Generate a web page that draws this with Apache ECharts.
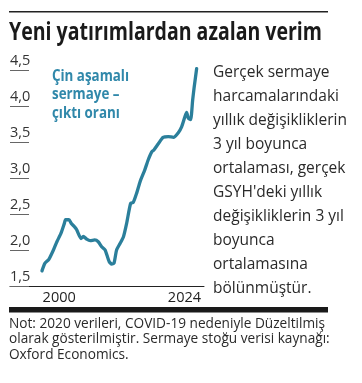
<!DOCTYPE html>
<html><head><meta charset="utf-8">
<script src="https://cdn.jsdelivr.net/npm/echarts@6/dist/echarts.min.js"></script>
<style>html,body{margin:0;padding:0;background:#fff}#c{width:362px;height:383px}</style>
</head><body><div id="c"></div>
<script>
// ---- data ----
const years = [1997.0,1997.5,1998.2,1999.0,1999.6,2000.3,2000.9,2001.1,2001.7,2002.1,2002.75,2003.05,2003.8,2004.2,2004.8,2005.4,2006.2,2006.8,2007.4,2008.0,2008.7,2009.15,2009.55,2010.0,2010.6,2011.2,2011.75,2012.45,2012.9,2013.5,2014.1,2014.9,2015.5,2016.1,2016.5,2017.3,2018.1,2019.0,2019.9,2020.75,2021.35,2021.9,2022.2,2022.5,2022.9,2023.25,2023.5,2023.95];
const ratio = [1.71,1.815,1.87,2.0,2.115,2.23,2.37,2.42,2.42,2.37,2.315,2.28,2.16,2.19,2.15,2.13,2.14,2.115,2.045,2.0,1.84,1.805,1.815,2.0,2.09,2.185,2.37,2.65,2.66,2.79,2.95,3.11,3.25,3.36,3.39,3.48,3.565,3.575,3.565,3.63,3.715,3.85,3.91,3.83,3.81,4.08,4.25,4.52];
const xTickValues = [2000, 2024];
const xTickLabels = ['2000', '2024'];
const yTickLabels = ['1,5','2,0','2,5','3,0','3,5','4,0','4,5'];
const titleText = 'Yeni yatırımlardan azalan verim';
const seriesLabel = ['Çin aşamalı', 'sermaye –', 'çıktı oranı'];
const noteLines = ['Gerçek sermaye','harcamalarındaki','yıllık değişikliklerin','3 yıl boyunca','ortalaması, gerçek',"GSYH'deki yıllık",'değişikliklerin 3 yıl','boyunca','ortalamasına','bölünmüştür.'];
const footLines = ['Not: 2020 verileri, COVID-19 nedeniyle Düzeltilmiş','olarak gösterilmiştir. Sermaye stoğu verisi kaynağı:','Oxford Economics.'];

const FF = '"Open Sans", "Noto Sans", sans-serif';
const TEAL = '#2b7f9b';
const TEAL_TXT = '#3088aa';
const ctx = document.createElement('canvas').getContext('2d');
function fit(text, weight, size, target){ ctx.font = weight + ' ' + size + 'px ' + FF; return target / ctx.measureText(text).width; }

const points = years.map((y,i)=>[y, ratio[i]]);
const chart = echarts.init(document.getElementById('c'), null, {renderer:'canvas'});
chart.setOption({
  animation:false,
  backgroundColor:'#fff',
  grid:{left:10, right:158, top:70, bottom:97, containLabel:false},
  xAxis:{type:'value', min:1991.43, max:2025.23,
    axisLine:{show:true, lineStyle:{color:'#222', width:1}},
    axisTick:{show:false}, splitLine:{show:false},
    axisLabel:{customValues:xTickValues, margin:4, fontFamily:FF, fontSize:14.5, color:'#222',
      formatter:(v)=>{const i=xTickValues.indexOf(v); const t=xTickLabels[i]; return i===xTickValues.length-1?'{r|'+t+'}':'{n|'+t+'}';},
      rich:{n:{fontFamily:FF,fontSize:14.5,color:'#222'}, r:{fontFamily:FF,fontSize:14.5,color:'#222',padding:[0,25,0,0]}}}
  },
  yAxis:{type:'value', min:1.5, max:4.5, interval:0.5,
    axisLine:{show:false}, splitLine:{show:false},
    axisTick:{show:true, inside:true, length:19, lineStyle:{color:'#666', width:1}},
    axisLabel:{inside:true, margin:0, align:'left', verticalAlign:'bottom', padding:[0,0,2,0], fontFamily:FF, fontSize:14.5, color:'#333',
      formatter:(v)=>yTickLabels[Math.round((v-1.5)/0.5)]}
  },
  series:[{type:'line', data:points, showSymbol:false, clip:false, smooth:0.2,
    lineStyle:{color:TEAL, width:3.3, cap:'round', join:'round'}}],
  graphic:[
    {type:'rect', shape:{x:9, y:11, width:319, height:1.5}, style:{fill:'#222'}},
    {type:'text', x:9, y:33, scaleX:fit(titleText,'bold',25,313),
      style:{text:titleText, fontFamily:FF, fontWeight:'bold', fontSize:25, fill:'#1a1a1a', verticalAlign:'middle'}},
    {type:'text', x:52, y:66.7, scaleX:fit(seriesLabel[0],'bold',16.5,77),
      style:{text:seriesLabel.join('\n'), fontFamily:FF, fontWeight:'bold', fontSize:16.5, lineHeight:18.5, fill:TEAL_TXT, verticalAlign:'top'}},
    {type:'text', x:213, y:59.7, scaleX:fit(noteLines[2],'normal',17,134),
      style:{text:noteLines.join('\n'), fontFamily:FF, fontSize:17, lineHeight:24, fill:'#2a2a2a', verticalAlign:'top'}},
    {type:'rect', shape:{x:9, y:307, width:319, height:5.5}, style:{fill:'#1a1a1a'}},
    {type:'text', x:9, y:315.5, scaleX:fit(footLines[0],'normal',15,316),
      style:{text:footLines.join('\n'), fontFamily:FF, fontSize:15, lineHeight:15.5, fill:'#2a2a2a', verticalAlign:'top'}}
  ]
});
</script></body></html>
